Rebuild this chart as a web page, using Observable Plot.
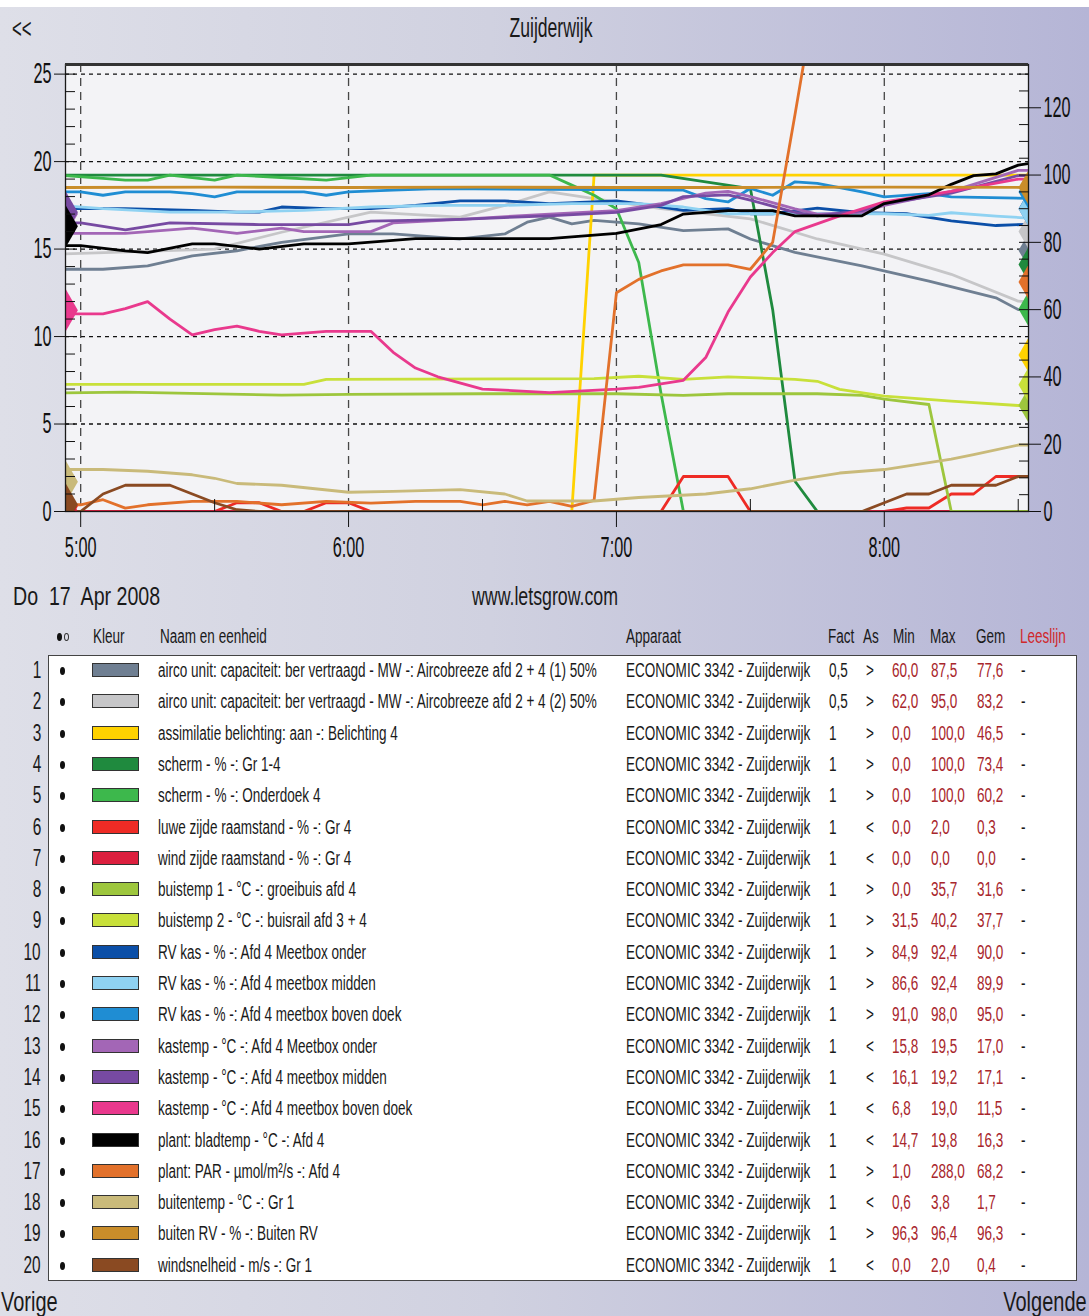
<!DOCTYPE html>
<html><head><meta charset="utf-8">
<script src="https://cdn.jsdelivr.net/npm/d3@7"></script>
<script src="https://cdn.jsdelivr.net/npm/@observablehq/plot@0.6"></script>
<style>
body{margin:0;}
#page{position:relative;width:1089px;height:1316px;overflow:hidden;
 background:linear-gradient(90deg,#dedfe8 0%,#d0d1e0 45%,#b5b5d6 100%);
 font-family:"Liberation Sans",Arial,sans-serif;color:#1a1a1a;}
.t{position:absolute;white-space:pre;line-height:1;}
#topstrip{position:absolute;left:0;top:0;width:1089px;height:7px;background:#fff;}
#box{position:absolute;left:48px;top:655px;width:1029px;height:626px;background:#fff;border:1px solid #444;box-sizing:border-box;}
.sw{position:absolute;width:47px;height:14px;border:1.5px solid #333;box-sizing:border-box;}
.bul{position:absolute;width:5px;height:8px;border-radius:50%;background:#111;}
.ring{position:absolute;width:5px;height:8px;border-radius:50%;border:1px solid #333;box-sizing:border-box;}
#chart{position:absolute;left:0;top:0;}
</style></head><body><div id="page">
<div id="topstrip"></div>
<div id="box"></div>
<div id="chart"></div>
</div>
<script>
// ---------- data ----------
const R = 5.2; // right-axis units per left-axis unit
const names = [
 "airco unit: capaciteit: ber vertraagd - MW -: Aircobreeze afd 2 + 4 (1) 50%",
 "airco unit: capaciteit: ber vertraagd - MW -: Aircobreeze afd 2 + 4 (2) 50%",
 "assimilatie belichting: aan -: Belichting 4",
 "scherm - % -: Gr 1-4",
 "scherm - % -: Onderdoek 4",
 "luwe zijde raamstand - % -: Gr 4",
 "wind zijde raamstand - % -: Gr 4",
 "buistemp 1 - °C -: groeibuis afd 4",
 "buistemp 2 - °C -: buisrail afd 3 + 4",
 "RV kas - % -: Afd 4 Meetbox onder",
 "RV kas - % -: Afd 4 meetbox midden",
 "RV kas - % -: Afd 4 meetbox boven doek",
 "kastemp - °C -: Afd 4 Meetbox onder",
 "kastemp - °C -: Afd 4 meetbox midden",
 "kastemp - °C -: Afd 4 meetbox boven doek",
 "plant: bladtemp - °C -: Afd 4",
 "plant: PAR - µmol/m²/s -: Afd 4",
 "buitentemp - °C -: Gr 1",
 "buiten RV - % -: Buiten RV",
 "windsnelheid - m/s -: Gr 1"
];
const colors = ["#6f7f92","#c6c6c8","#ffd200","#1f8a3e","#3db84c","#ee2b25","#dc1f3e","#9dc63d","#c8e03a",
 "#0b4fa8","#8fd2f2","#1f8dd3","#a366b6","#774aa2","#e9398d","#000000","#e2712b","#c9ba7a","#c98d2a","#8a4a22"];
const apparaat = "ECONOMIC 3342 - Zuijderwijk";
const fact = ["0,5","0,5","1","1","1","1","1","1","1","1","1","1","1","1","1","1","1","1","1","1"];
const axesSide = [">",">",">",">",">","<","<",">",">",">",">",">","<","<","<","<",">","<",">","<"];
const minV = ["60,0","62,0","0,0","0,0","0,0","0,0","0,0","0,0","31,5","84,9","86,6","91,0","15,8","16,1","6,8","14,7","1,0","0,6","96,3","0,0"];
const maxV = ["87,5","95,0","100,0","100,0","100,0","2,0","0,0","35,7","40,2","92,4","92,4","98,0","19,5","19,2","19,0","19,8","288,0","3,8","96,4","2,0"];
const gemV = ["77,6","83,2","46,5","73,4","60,2","0,3","0,0","31,6","37,7","90,0","89,9","95,0","17,0","17,1","11,5","16,3","68,2","1,7","96,3","0,4"];

const airco1 = [["4:55",72],["5:05",72],["5:15",73],["5:25",76],["5:35",77.5],["5:45",80],["6:00",82.5],["6:10",82.5],["6:25",81],["6:35",82.5],["6:40",86],["6:45",87.5],["6:50",85.5],["6:55",86.5],["7:05",85.5],["7:15",83.5],["7:25",84],["7:30",81],["7:40",77],["7:55",73],["8:10",68.5],["8:25",63.5],["8:30",60],["8:35",60]];
const airco2 = [["4:55",76.5],["5:30",78],["5:45",83],["6:05",89],["6:25",87.5],["6:35",91],["6:45",95],["6:55",93],["7:10",90],["7:30",87],["7:45",81],["8:00",76.5],["8:15",70.5],["8:30",62.5],["8:35",62]];
const belichting = [["4:55",0],["6:50",0],["6:55",100],["8:35",100]];
const schermGr = [["4:55",100],["7:10",100],["7:30",96],["7:35",60],["7:40",9],["7:45",0],["8:35",0]];
const schermOnder = [["4:55",100],["5:05",99],["5:10",98.5],["5:15",98.5],["5:20",100],["5:30",98.5],["5:35",100],["5:55",98.5],["6:05",100],["6:45",100],["6:50",97],["6:55",94],["7:00",90],["7:05",74],["7:10",35],["7:15",0],["8:35",0]];
const luweZijde = [["4:55",0],["5:30",0],["5:35",0.5],["5:40",0.5],["5:45",0],["5:50",0],["5:55",0.5],["6:00",0.5],["6:05",0],["7:10",0],["7:15",2],["7:25",2],["7:30",0],["8:00",0],["8:05",0.2],["8:10",0.2],["8:15",1],["8:20",1],["8:25",2],["8:35",2]];
const windZijde = [["4:55",0],["8:35",0]];
const buistemp1 = [["4:55",35.2],["5:10",35.5],["5:45",34.6],["6:00",34.8],["6:30",35],["7:00",35],["7:15",34.5],["7:25",35],["7:45",35],["7:55",34.5],["8:00",33.4],["8:10",31.8],["8:15",0],["8:35",0]];
const buistemp2 = [["4:55",37.8],["5:50",37.8],["5:55",39.3],["6:55",39.5],["7:05",40.2],["7:15",39.3],["7:25",40],["7:40",39.3],["7:45",38.7],["7:50",36.3],["8:00",34.3],["8:15",32.8],["8:30",31.5],["8:35",31.5]];
const rvOnder = [["4:55",90],["5:10",90],["5:25",89.5],["5:35",89],["5:40",89],["5:45",90.5],["5:55",90],["6:05",90],["6:15",91],["6:25",92.3],["6:35",92.3],["6:45",91.5],["7:00",92.3],["7:05",91.5],["7:15",89.5],["7:25",90],["7:30",88.5],["7:35",88.5],["7:45",90.2],["7:55",88.8],["8:05",88.5],["8:15",86.4],["8:25",85],["8:35",85.5]];
const rvMidden = [["4:55",91],["5:05",90],["5:20",89],["5:35",89],["5:50",89.5],["6:05",90.5],["6:20",91],["6:35",91],["6:50",91.5],["7:05",91.5],["7:15",90.5],["7:25",88.5],["7:40",88.5],["8:00",88.5],["8:10",88],["8:15",88.8],["8:25",87.8],["8:35",87]];
const rvBoven = [["4:55",95],["5:00",95],["5:05",94],["5:10",95],["5:20",95],["5:25",94.5],["5:30",93.5],["5:35",95],["5:50",95],["5:55",94],["6:00",95],["6:10",95.5],["6:20",96],["7:15",95.5],["7:20",93],["7:25",92],["7:30",96],["7:35",94],["7:40",98],["7:45",97.5],["7:55",95],["8:00",93.5],["8:10",94.5],["8:15",93.5],["8:35",93]];
const kasOnder = [["4:55",15.9],["5:10",15.9],["5:25",16.2],["5:35",15.9],["5:45",16.2],["5:50",16.0],["6:05",16.0],["6:10",16.5],["6:25",16.7],["6:45",17.0],["7:00",17.2],["7:10",17.6],["7:20",18.2],["7:25",18.3],["7:30",18.0],["7:40",17.3],["7:45",17.0],["7:55",17.1],["8:00",17.5],["8:15",18.3],["8:30",19.5],["8:35",19.5]];
const kasMidden = [["4:55",16.5],["5:00",16.5],["5:05",16.3],["5:10",16.1],["5:20",16.5],["5:40",16.4],["6:00",16.4],["6:05",16.6],["6:25",16.7],["6:45",16.9],["7:00",17.1],["7:10",17.5],["7:15",18.0],["7:25",18.1],["7:30",17.8],["7:40",17.1],["7:45",16.9],["7:55",17.2],["8:00",17.6],["8:15",18.2],["8:30",19.2],["8:35",19.2]];
const kasBoven = [["4:55",11.3],["5:05",11.3],["5:10",11.6],["5:15",12.0],["5:20",11.0],["5:25",10.1],["5:30",10.4],["5:35",10.6],["5:40",10.3],["5:45",10.1],["5:55",10.3],["6:05",10.3],["6:10",9.1],["6:15",8.2],["6:20",7.7],["6:30",7.0],["6:45",6.8],["7:00",7.0],["7:05",7.1],["7:10",7.3],["7:15",7.5],["7:20",8.8],["7:25",11.4],["7:30",13.4],["7:35",14.8],["7:40",16.0],["7:50",16.9],["8:00",17.7],["8:15",18.3],["8:30",19.0],["8:35",19.0]];
const bladtemp = [["4:55",15.2],["5:00",15.2],["5:10",14.9],["5:15",14.8],["5:25",15.3],["5:30",15.3],["5:40",15.0],["5:50",15.3],["6:00",15.3],["6:15",15.6],["6:45",15.6],["7:00",15.9],["7:10",16.4],["7:15",17.0],["7:25",17.2],["7:35",17.2],["7:40",16.9],["7:55",16.9],["8:00",17.6],["8:10",18.1],["8:15",18.7],["8:20",19.2],["8:25",19.3],["8:30",19.8],["8:35",20]];
const par = [["4:55",2],["5:00",2],["5:05",3.5],["5:10",1],["5:15",2],["5:25",3],["5:35",3],["5:45",2],["5:55",3],["6:05",2.5],["6:15",3],["6:25",3],["6:30",2],["6:35",3],["6:40",2],["6:45",3],["6:50",1.5],["6:55",3.3],["7:00",65],["7:05",69],["7:10",71.5],["7:15",73.3],["7:25",73.3],["7:30",72],["7:35",80],["7:40",118],["7:45",157],["7:50",190],["8:00",230],["8:15",260],["8:30",288],["8:35",285]];
const buitentemp = [["4:55",2.4],["5:05",2.4],["5:15",2.3],["5:25",2.1],["5:30",1.9],["5:35",1.6],["5:45",1.5],["6:00",1.1],["6:10",1.15],["6:25",1.25],["6:35",1.0],["6:40",0.6],["6:55",0.6],["7:05",0.8],["7:20",1.0],["7:30",1.3],["7:40",1.8],["7:50",2.2],["8:00",2.4],["8:15",3.0],["8:20",3.25],["8:30",3.8],["8:35",3.8]];
const buitenRV = [["4:55",96.3],["5:30",96.4],["6:00",96.3],["6:30",96.4],["7:00",96.3],["7:30",96.3],["8:00",96.4],["8:35",96.3]];
const windsnelheid = [["4:55",0],["5:00",0],["5:05",1.0],["5:10",1.5],["5:20",1.5],["5:25",1.0],["5:30",0.5],["5:35",0.1],["5:40",0],["7:55",0],["8:00",0.5],["8:05",1.0],["8:10",1.0],["8:15",1.5],["8:25",1.5],["8:30",2.0],["8:35",2.0]];

const seriesData = [airco1, airco2, belichting, schermGr, schermOnder, luweZijde, windZijde, buistemp1, buistemp2,
  rvOnder, rvMidden, rvBoven, kasOnder, kasMidden, kasBoven, bladtemp, par, buitentemp, buitenRV, windsnelheid];

const hourTicks = ["5:00","6:00","7:00","8:00"];
const halfTicks = ["5:30","6:30","7:30","8:30"];
const leftTicks = [0,5,10,15,20,25];
const rightTicks = [0,20,40,60,80,100,120];
const xStart = "4:56.6", xEnd = "8:32.3";
const yTop = 25.55;

// ---------- helpers ----------
const toMin = s => { const [h, m] = s.split(":"); return +h * 60 + +m; };
const fmtTime = m => `${Math.floor(m / 60)}:${String(Math.round(m % 60)).padStart(2, "0")}`;
const num = s => +s.replace(",", ".");
const yOf = (i, v) => axesSide[i] === ">" ? v / R : v;
const xDomain = [toMin(xStart), toMin(xEnd)];
const FONT = '"Liberation Sans",Arial,sans-serif';

const rows = seriesData.flatMap((arr, i) => arr.map(([t, v]) => ({i, t: toMin(t), v})));

const marks = [
  Plot.frame({fill: "#f3f3f6", stroke: null}),
  Plot.gridY([5,10,15,20,25], {stroke: "#111", strokeOpacity: 1, strokeDasharray: "4,4", strokeWidth: 1.3}),
  Plot.gridX(hourTicks.map(toMin), {stroke: "#333", strokeOpacity: 0.9, strokeDasharray: "8,6", strokeWidth: 1.3})
];
seriesData.forEach((arr, i) => {
  marks.push(Plot.line(rows.filter(d => d.i === i), {
    x: "t", y: d => yOf(i, d.v), stroke: colors[i], strokeWidth: 2.8, clip: true
  }));
});
seriesData.forEach((arr, i) => {
  const right = axesSide[i] === ">";
  marks.push(Plot.dot([num(gemV[i])], {
    x: () => right ? xDomain[1] : xDomain[0], y: d => yOf(i, d),
    fill: colors[i], stroke: null, symbol: "diamond", r: right ? 10.5 : 13, clip: true
  }));
});
marks.push(
  Plot.frame({stroke: "#1a1a1a", strokeWidth: 1.3}),
  Plot.ruleY([yTop], {stroke: "#333", strokeWidth: 3}),
  Plot.axisY(leftTicks, {anchor: "left", tickSize: 11, tickPadding: 3, fontSize: 29, label: null, stroke: "#111"}),
  Plot.axisY(d3.range(0, 26), {anchor: "left", tickSize: -10, tickFormat: () => "", label: null, stroke: "#111"}),
  Plot.axisY(rightTicks.map(v => v / R), {anchor: "right", tickSize: 12, tickPadding: 3, fontSize: 29, label: null,
    tickFormat: d => String(Math.round(d * R)), stroke: "#111"}),
  Plot.axisY(d3.range(5, 131, 5).map(v => v / R), {anchor: "right", tickSize: -10, tickFormat: () => "", label: null, stroke: "#111"}),
  Plot.axisX(hourTicks.map(toMin), {anchor: "bottom", tickSize: 16, tickPadding: 9, fontSize: 29, label: null,
    tickFormat: fmtTime, stroke: "#111"}),
  Plot.axisX(halfTicks.map(toMin), {anchor: "bottom", tickSize: -12, tickFormat: () => "", label: null, stroke: "#111"})
);

const chart = Plot.plot({
  width: 1089, height: 575,
  marginLeft: 65, marginRight: 61, marginTop: 64, marginBottom: 64,
  x: {domain: xDomain},
  y: {domain: [0, yTop]},
  style: {background: "transparent", fontFamily: FONT, color: "#111", overflow: "visible"},
  marks
});
document.getElementById("chart").appendChild(chart);

// condense axis labels (narrow typeface look)
const AXIS_SX = 0.56;
chart.querySelectorAll("text").forEach(t => {
  if (!t.textContent) return;
  const tr = t.getAttribute("transform");
  if (tr && !t.hasAttribute("x")) {
    t.setAttribute("transform", `${tr} scale(${AXIS_SX},1)`);
  } else {
    const w = t.getComputedTextLength();
    t.setAttribute("textLength", (w * AXIS_SX).toFixed(1));
    t.setAttribute("lengthAdjust", "spacingAndGlyphs");
  }
});

// ---------- HTML text ----------
const page = document.getElementById("page");
function txt(s, x, yc, size, opts = {}) {
  const e = document.createElement("div");
  e.className = "t";
  e.textContent = s;
  e.style.fontSize = size + "px";
  e.style.top = yc + "px";
  if (opts.anchor === "end") e.style.right = (1089 - x) + "px";
  else e.style.left = x + "px";
  if (opts.color) e.style.color = opts.color;
  page.appendChild(e);
  e._anchor = opts.anchor || "start";
  return e;
}
function box(cls, x, yc) {
  const e = document.createElement("div");
  e.className = cls;
  e.style.left = x + "px"; e.style.top = (yc - 4) + "px";
  page.appendChild(e);
}
function condense(els, sx) {
  els.forEach(e => {
    if (e._anchor === "end") { e.style.transformOrigin = "100% 50%"; e.style.transform = `translateY(-50%) scaleX(${sx})`; }
    else if (e._anchor === "middle") { e.style.transformOrigin = "50% 50%"; e.style.transform = `translate(-50%,-50%) scaleX(${sx})`; }
    else { e.style.transformOrigin = "0 50%"; e.style.transform = `translateY(-50%) scaleX(${sx})`; }
  });
}
function fitTo(e, targetW) { return targetW / e.offsetWidth; }

const head = [];
head.push(txt("<<", 12, 29, 27));
const title = txt("Zuijderwijk", 551, 28, 28, {anchor: "middle"});
const dateT = txt("Do  17  Apr 2008", 13, 596, 26);
const site = txt("www.letsgrow.com", 545, 596, 26, {anchor: "middle"});
condense([title], fitTo(title, 83));
condense([dateT], fitTo(dateT, 147));
condense([site], fitTo(site, 146));
condense(head, 0.62);

const tableEls = [];
const hdr = [["Kleur",93],["Naam en eenheid",160],["Apparaat",626],["Fact",828],["As",863],["Min",893],["Max",930],["Gem",976]];
hdr.forEach(([s, x]) => tableEls.push(txt(s, x, 636, 20)));
tableEls.push(txt("Leeslijn", 1020, 636, 20, {color: "#d0282c"}));
box("bul", 57, 637);
box("ring", 64, 637);

const ROW0 = 670, STEP = 31.3;
let refEl = null;
const numEls = [];
names.forEach((nm, i) => {
  const yc = ROW0 + i * STEP;
  numEls.push(txt(String(i + 1), 41, yc, 24, {anchor: "end"}));
  box("bul", 60, yc + 1);
  const sw = document.createElement("div");
  sw.className = "sw";
  sw.style.left = "92px"; sw.style.top = (yc - 7) + "px"; sw.style.background = colors[i];
  page.appendChild(sw);
  tableEls.push(txt(nm, 158, yc, 20));
  const a = txt(apparaat, 626, yc, 20); tableEls.push(a); if (!refEl) refEl = a;
  tableEls.push(txt(fact[i], 829, yc, 20));
  tableEls.push(txt(axesSide[i], 866, yc, 20));
  tableEls.push(txt(minV[i], 892, yc, 20, {color: "#a8262c"}));
  tableEls.push(txt(maxV[i], 931, yc, 20, {color: "#a8262c"}));
  tableEls.push(txt(gemV[i], 977, yc, 20, {color: "#a8262c"}));
  tableEls.push(txt("-", 1021, yc, 20));
});
const TSX = fitTo(refEl, 184);
condense(tableEls, TSX);
condense(numEls, TSX * 0.95);
const prev = txt("Vorige", 1, 1302, 27);
const next = txt("Volgende", 1087, 1302, 27, {anchor: "end"});
condense([prev, next], fitTo(prev, 57));
</script>
</body></html>
